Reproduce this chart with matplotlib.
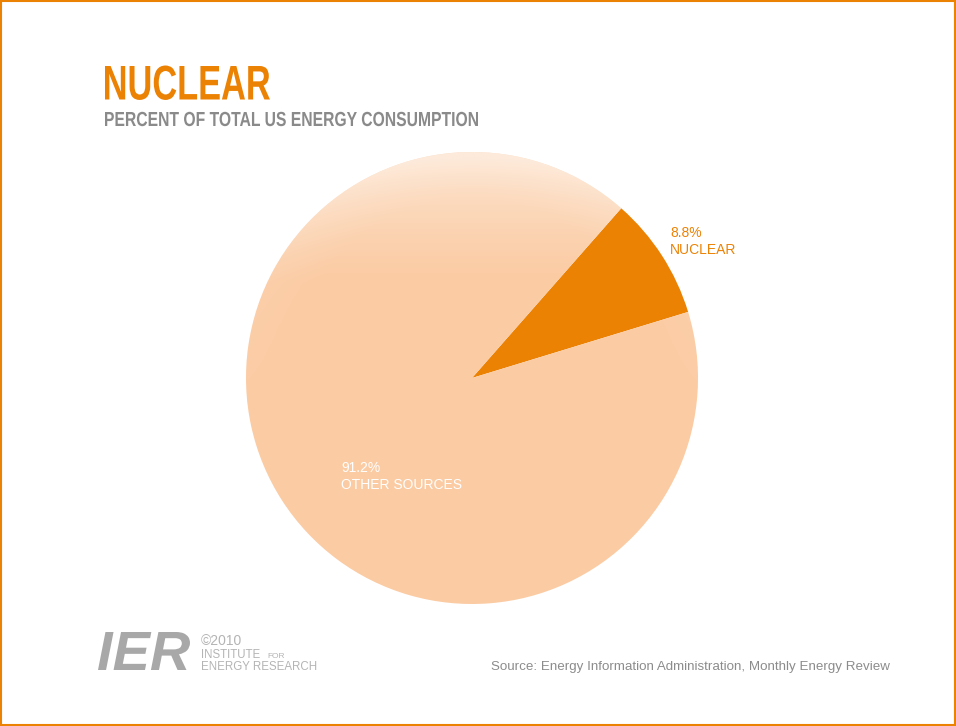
import numpy as np
import matplotlib.pyplot as plt
from matplotlib.patches import Rectangle, PathPatch
from matplotlib.textpath import TextPath
from matplotlib.font_manager import FontProperties
from matplotlib.transforms import Affine2D, IdentityTransform

labels = ['NUCLEAR', 'OTHER SOURCES']
shares = [8.8, 91.2]
colors = ['#EC8204', '#FBCBA3']
label_colors = ['#EC8204', 'white']

W, H = 956, 726
fig = plt.figure(figsize=(W / 100, H / 100), dpi=100)
fig.patch.set_facecolor('white')


def squeezed_text(s, x0, x1, base, cap, color, style='normal'):
    # draw text stretched to a box in pixels (top-left origin): no narrow font installed
    fp = FontProperties(family='Liberation Sans', weight='bold', style=style)
    tp = TextPath((0, 0), s, size=100, prop=fp)
    ext = tp.get_extents()
    capref = TextPath((0, 0), 'H', size=100, prop=fp).get_extents().y1
    sx = (x1 - x0) / ext.width
    sy = cap / capref
    tr = Affine2D().translate(-ext.x0, 0).scale(sx, sy).translate(x0, H - base)
    fig.patches.append(PathPatch(tp, transform=tr + IdentityTransform(),
                                 facecolor=color, edgecolor='none'))


# pie centre / radius in pixels
cx, cy, r = 472, 378, 226
ax = fig.add_axes([(cx - r) / W, (H - cy - r) / H, 2 * r / W, 2 * r / H])
wedges, _ = ax.pie(shares, colors=colors, startangle=17, counterclock=True,
                   radius=1, wedgeprops=dict(linewidth=0))
ax.set_xlim(-1, 1)
ax.set_ylim(-1, 1)
ax.set_aspect('equal')
ax.axis('off')

# light shading toward the top of the big slice
yy, xx = np.mgrid[-1:1:300j, -1:1:300j]
top = np.clip((yy - 0.42) / 0.58, 0, 1) ** 1.2
rim = np.clip((np.hypot(xx, yy) - 0.8) / 0.2, 0, 1) * np.clip((yy + 0.2) / 1.2, 0, 1)
alpha = np.clip(0.5 * top + 0.15 * rim, 0, 0.6)
img = np.ones((300, 300, 4))
img[..., 3] = alpha
im = ax.imshow(img, extent=(-1, 1, -1, 1), origin='lower', aspect='auto', zorder=3)
im.set_clip_path(wedges[1])

# slice labels
fig.text(670 / W, 1 - 226 / H, '%.1f%%\n%s' % (shares[0], labels[0]),
         color=label_colors[0], fontsize=10, va='top', ha='left',
         family='Liberation Sans', linespacing=1.3)
fig.text(341 / W, 1 - 461 / H, '%.1f%%\n%s' % (shares[1], labels[1]),
         color=label_colors[1], fontsize=10, va='top', ha='left',
         family='Liberation Sans', linespacing=1.3)

# titles
squeezed_text('NUCLEAR', 105, 270, 99.5, 33.5, '#EC8204')
squeezed_text('PERCENT OF TOTAL US ENERGY CONSUMPTION', 105, 478, 126, 14, '#8a8a8a')

# source
fig.text(491 / W, 1 - 670 / H,
         'Source: Energy Information Administration, Monthly Energy Review',
         color='#8c8c8c', fontsize=9.6, family='Liberation Sans', va='baseline')

# logo
squeezed_text('IER', 98, 190, 670, 38, '#a8a8a8', style='italic')
fig.text(201 / W, 1 - 645 / H, '\u00a92010', color='#b4b4b4', fontsize=10,
         family='Liberation Sans', va='baseline')
fig.text(201 / W, 1 - 658 / H, 'INSTITUTE', color='#b4b4b4', fontsize=8.3,
         family='Liberation Sans', va='baseline')
fig.text(267 / W, 1 - 658 / H, 'FOR', color='#b4b4b4', fontsize=6,
         family='Liberation Sans', va='baseline')
fig.text(201 / W, 1 - 670 / H, 'ENERGY RESEARCH', color='#b4b4b4', fontsize=8.3,
         family='Liberation Sans', va='baseline')

# orange frame
fig.patches.append(Rectangle((0.001, 0.001), 0.998, 0.997, transform=fig.transFigure,
                             fill=False, edgecolor='#EC8204', linewidth=1.5))

fig.savefig('out.png', dpi=100, facecolor='white')
